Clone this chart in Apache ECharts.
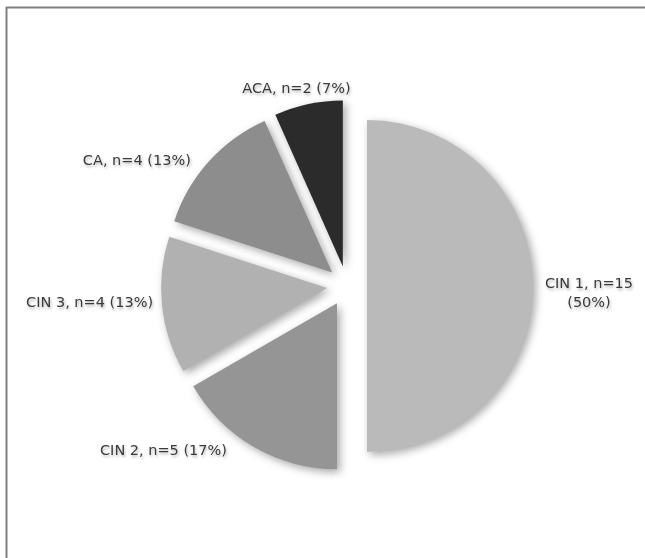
<!DOCTYPE html>
<html><head><meta charset="utf-8">
<script src="https://cdn.jsdelivr.net/npm/echarts@6/dist/echarts.min.js"></script>
<style>html,body{margin:0;padding:0;background:#fff}#c{width:645px;height:558px}</style>
</head><body><div id="c"></div>
<script>
const categories = ['CIN 1', 'CIN 2', 'CIN 3', 'CA', 'ACA'];
const counts = [15, 5, 4, 4, 2];
const percents = [50, 17, 13, 13, 7];
const colors = ['#bababa', '#959595', '#b1b1b1', '#8d8d8d', '#2b2b2b'];
const labelOffsets = [[-7, 8], [-14, -3], [8, -3], [-3, 5], [53, -7]];

const chart = echarts.init(document.getElementById('c'), null, {renderer: 'canvas'});
const data = categories.map((name, i) => ({
  name: name,
  value: counts[i],
  selected: true,
  itemStyle: {color: colors[i]},
  label: {
    formatter: i === 0 ? '{c|' + name + ', n=' + counts[i] + '}\n{c|(' + percents[i] + '%)}'
                       : name + ', n=' + counts[i] + ' (' + percents[i] + '%)'
  }
}));

chart.setOption({
  animation: false,
  graphic: [
    {type: 'line', shape: {x1: 6, y1: 7.5, x2: 645, y2: 7.5}, style: {stroke: '#808080', lineWidth: 2}},
    {type: 'line', shape: {x1: 6.5, y1: 7, x2: 6.5, y2: 558}, style: {stroke: '#808080', lineWidth: 2}}
  ],
  series: [{
    type: 'pie',
    center: [347, 286],
    radius: 166,
    startAngle: 90,
    clockwise: true,
    selectedMode: 'multiple',
    selectedOffset: 20,
    avoidLabelOverlap: false,
    emphasis: {disabled: true},
    itemStyle: {
      shadowBlur: 8,
      shadowColor: 'rgba(0,0,0,0.35)',
      shadowOffsetX: 3,
      shadowOffsetY: 3
    },
    label: {
      show: true,
      position: 'outside',
      color: '#3a3a3a',
      fontFamily: 'DejaVu Sans, sans-serif',
      fontSize: 14.5,
      lineHeight: 19,
      textShadowColor: 'rgba(0,0,0,0.3)',
      textShadowBlur: 3,
      textShadowOffsetX: 1,
      textShadowOffsetY: 2,
      rich: {
        c: {
          width: 92,
          align: 'center',
          fontFamily: 'DejaVu Sans, sans-serif',
          fontSize: 14.5,
          lineHeight: 19,
          color: '#3a3a3a'
        }
      }
    },
    labelLine: {show: false, length: 8, length2: 4},
    labelLayout: function (params) {
      const o = labelOffsets[params.dataIndex];
      return {dx: o[0], dy: o[1]};
    },
    data: data
  }]
});
</script></body></html>
